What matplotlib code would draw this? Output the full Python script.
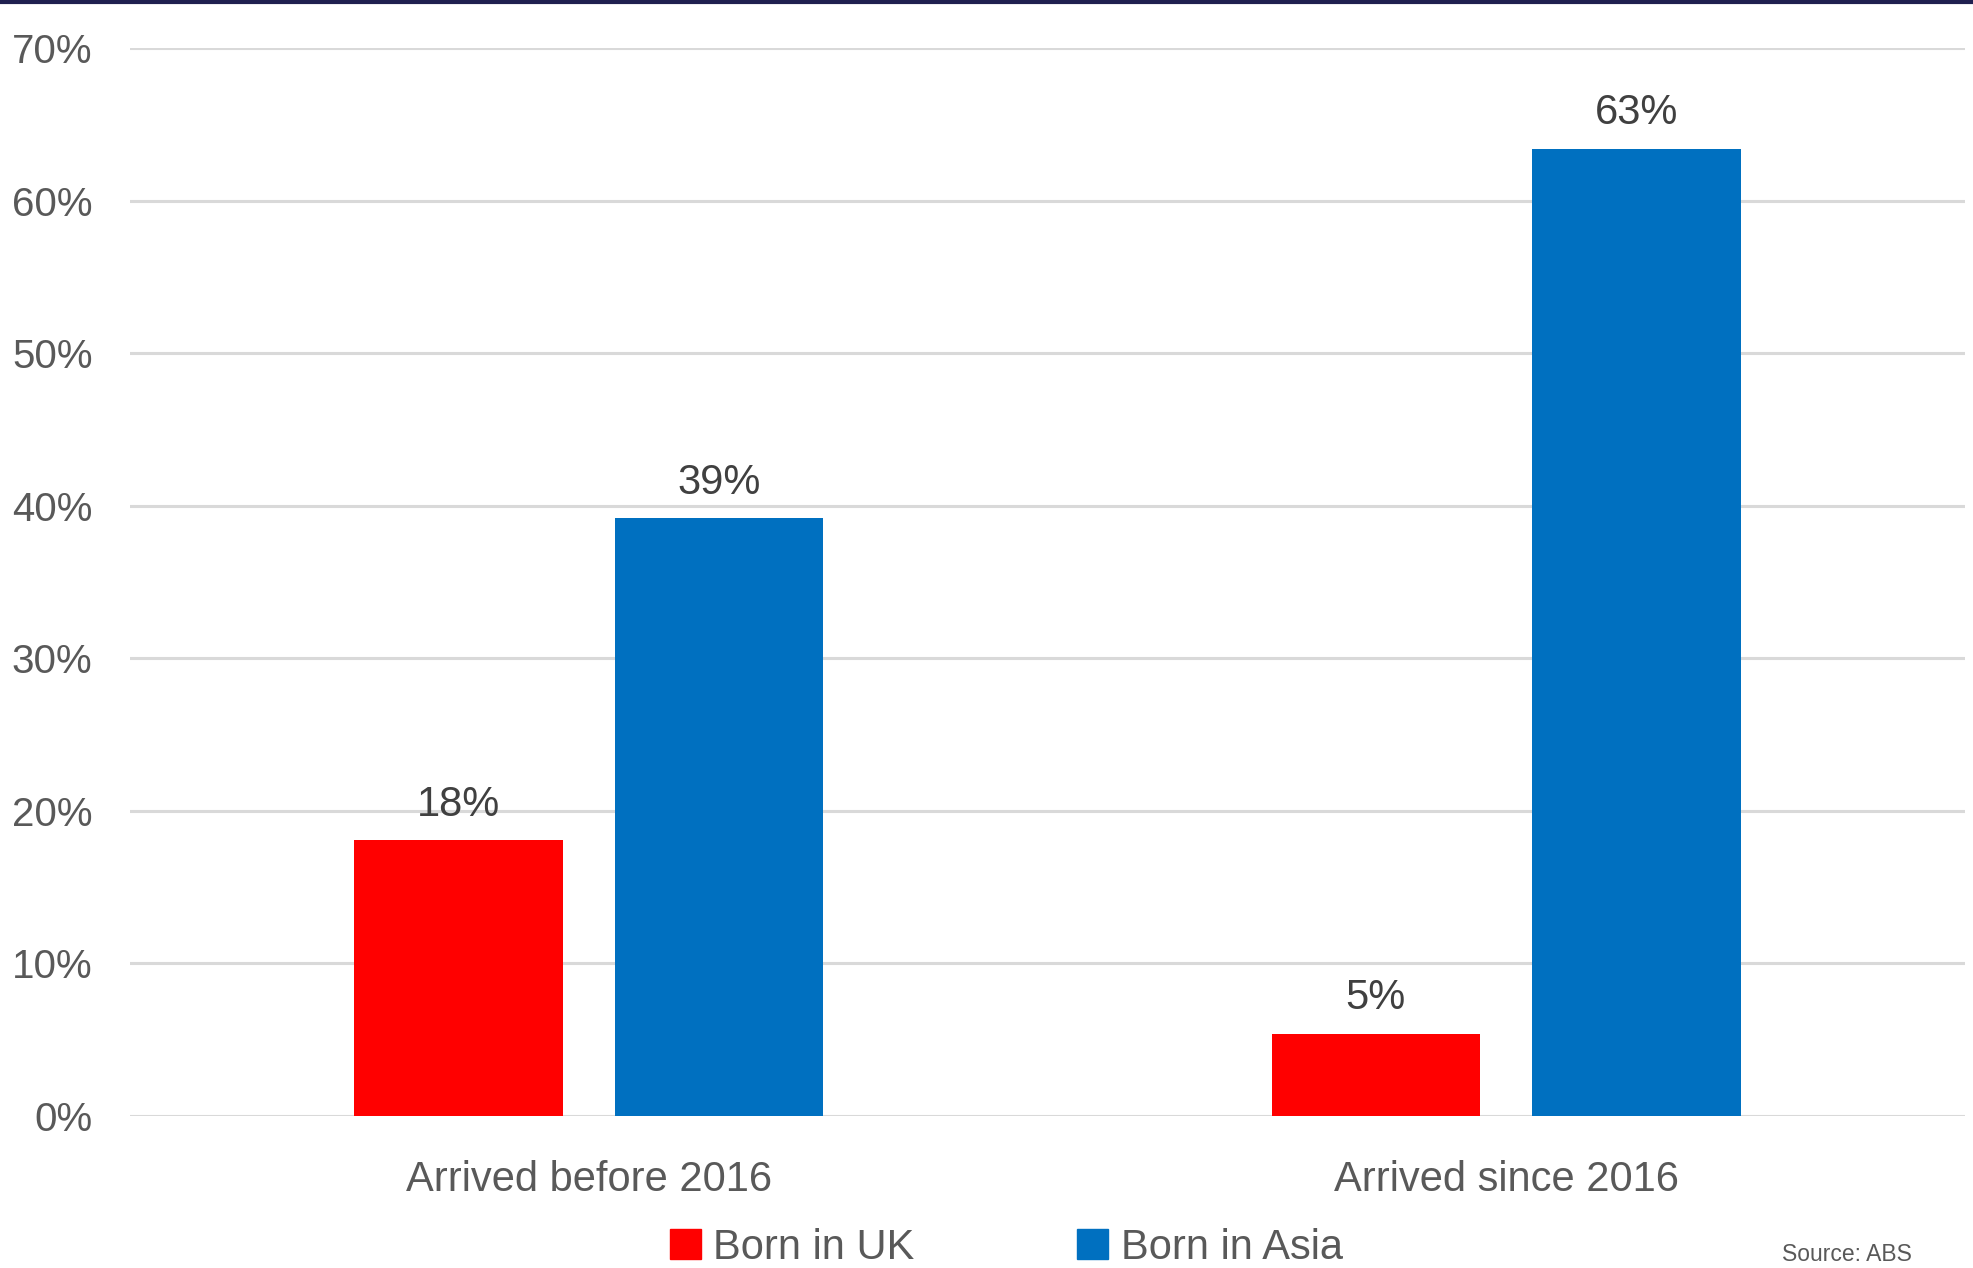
import matplotlib.pyplot as plt
import numpy as np
from matplotlib.patches import Patch
from matplotlib.lines import Line2D

# data
categories = ["Arrived before 2016", "Arrived since 2016"]
series_names = ["Born in UK", "Born in Asia"]
uk_vals = [18.1, 5.4]
asia_vals = [39.2, 63.4]
yticks = [0, 10, 20, 30, 40, 50, 60, 70]

red = "#ff0000"
blue = "#0070c0"
grey = "#595959"

plt.rcParams['font.family'] = ['Liberation Sans Narrow', 'Liberation Sans', 'DejaVu Sans']

fig = plt.figure(figsize=(19.73, 12.68), dpi=100)
ax = fig.add_axes([0.0659, 0.1199, 0.930, 0.8422])

x = np.arange(len(categories))
w = 0.227
off = 0.142
b1 = ax.bar(x - off, uk_vals, w, color=red, zorder=3)
b2 = ax.bar(x + off, asia_vals, w, color=blue, zorder=3)

for bars in (b1, b2):
    for b in bars:
        v = b.get_height()
        ax.text(b.get_x() + b.get_width() / 2, v + 1.0, f"{v:.0f}%",
                ha='center', va='bottom', fontsize=30, color="#404040")

ax.set_xlim(-0.5, 1.5)
ax.set_ylim(0, 70)
ax.set_yticks(yticks)
ax.set_yticklabels([f"{t}%" for t in yticks])
ax.set_xticks(x)
ax.set_xticklabels(categories)
ax.tick_params(axis='y', length=0, pad=27, labelsize=29, labelcolor=grey)
ax.tick_params(axis='x', length=0, pad=32, labelsize=30, labelcolor=grey)
ax.grid(axis='y', color='#d9d9d9', linewidth=2.2, zorder=0)
for s in ax.spines.values():
    s.set_visible(False)

handles = [Patch(color=red), Patch(color=blue)]
fig.legend(handles, series_names, loc='center', bbox_to_anchor=(0.51, 0.016),
           ncol=2, frameon=False, fontsize=30, labelcolor=grey,
           handlelength=0.75, handleheight=0.75, handletextpad=0.3, columnspacing=3.9)

fig.text(0.903, 0.011, "Source: ABS", fontsize=16.5, color=grey, ha='left', va='center')

# dark line along the top edge
fig.add_artist(Line2D([0, 1], [0.9985, 0.9985], transform=fig.transFigure,
                      color='#1f2050', linewidth=3))

fig.savefig("out.png", dpi=100)
